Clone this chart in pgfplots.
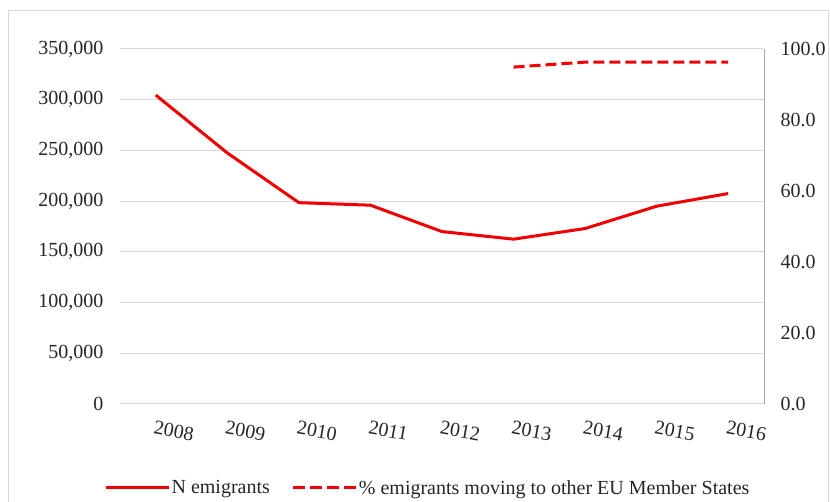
\documentclass[border=0pt]{standalone}
\usepackage{fontspec}
\setmainfont{Liberation Serif}
\usepackage{pgfplots}
\pgfplotsset{compat=1.18}
\definecolor{gridc}{HTML}{D9D9D9}
\definecolor{axc}{HTML}{A6A6A6}
\definecolor{linered}{HTML}{F00000}
\newcommand{\tfont}{\fontsize{20}{24}\selectfont}
\begin{document}
\begin{tikzpicture}[x=1pt,y=1pt]
\useasboundingbox (0,0) rectangle (830,502);
\draw[gridc, line width=1pt] (8,-10) rectangle (828,491);
\begin{axis}[at={(120pt,98pt)}, anchor=south west, scale only axis,
  width=644pt, height=355pt,
  xmin=-0.5, xmax=8.5, ymin=0, ymax=350000,
  xtick={0,1,2,3,4,5,6,7,8},
  xticklabels={2008,2009,2010,2011,2012,2013,2014,2015,2016},
  ytick={0,50000,100000,150000,200000,250000,300000,350000},
  scaled y ticks=false,
  axis x line*=bottom, axis y line*=left,
  x axis line style={gridc, line width=1pt, -},
  y axis line style={draw=none},
  major tick length=0,
  ymajorgrids, grid style={gridc, line width=1pt},
  /pgf/number format/assume math mode=true,
  /pgf/number format/fixed,
  /pgf/number format/1000 sep={,},
  tick label style={font=\tfont, text=black!85},
  yticklabel style={xshift=-13pt},
  xticklabel style={rotate=-10, anchor=north west, xshift=-1pt, yshift=-13pt},
  legend style={at={(0.4775,-0.2366)}, anchor=center, draw=none, fill=none,
    legend columns=2, font=\tfont, text=black!85,
    nodes={inner xsep=1.5pt, inner ysep=2pt},
    /tikz/every even column/.append style={column sep=20pt}},
  legend image code/.code={\draw[#1] (0pt,0pt) -- (63pt,0pt);},
]
\addplot[linered, line width=3pt, line join=round] coordinates {
(0,304500) (1,247500) (2,198500) (3,196000) (4,170000) (5,162500) (6,173000) (7,195000) (8,207500)};
\addlegendentry{N emigrants}
\addlegendimage{linered, line width=3pt, dash pattern=on 12pt off 5pt}
\addlegendentry{\% emigrants moving to other EU Member States}
\end{axis}
\begin{axis}[at={(120pt,98pt)}, anchor=south west, scale only axis,
  width=644pt, height=355pt,
  xmin=-0.5, xmax=8.5, ymin=0, ymax=100,
  axis x line=none, axis y line*=right,
  y axis line style={axc, line width=1pt, -},
  ytick={0,20,40,60,80,100},
  major tick length=0,
  /pgf/number format/assume math mode=true,
  /pgf/number format/fixed,
  /pgf/number format/fixed zerofill,
  /pgf/number format/precision=1,
  tick label style={font=\tfont, text=black!85},
  yticklabel style={xshift=13pt},
]
\addplot[linered, line width=3pt, dash pattern=on 11pt off 5pt] coordinates {
(5,94.9) (6,96.3) (7,96.3) (8,96.3)};
\end{axis}
\end{tikzpicture}
\end{document}
